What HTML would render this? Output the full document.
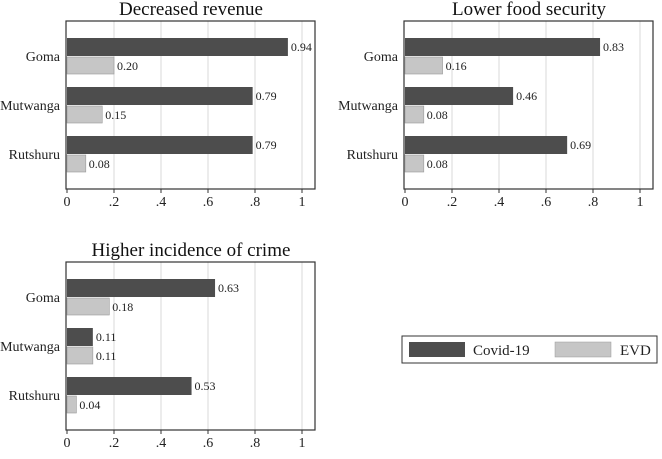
<!DOCTYPE html>
<html><head><meta charset="utf-8"><style>
body{margin:0;background:#fff}
svg{font-family:"Liberation Serif",serif}
</style></head><body>
<svg id="c" width="662" height="454" viewBox="0 0 662 454">
<g>
<rect x="402" y="336" width="255" height="27" fill="#fff" stroke="#333" stroke-width="1"/>
<rect x="409" y="342" width="56" height="15" fill="#4d4d4d"/>
<text x="473" y="355" font-size="15" fill="#222">Covid-19</text>
<rect x="555" y="342" width="56" height="15" fill="#c6c6c6" stroke="#999" stroke-width="0.5"/>
<text x="620" y="355" font-size="15" fill="#222">EVD</text>
</g>
</svg>
<script>
const categories=["Goma","Mutwanga","Rutshuru"];
const titles=["Decreased revenue","Lower food security","Higher incidence of crime"];
const covid1=[0.94,0.79,0.79], evd1=[0.20,0.15,0.08];
const covid2=[0.83,0.46,0.69], evd2=[0.16,0.08,0.08];
const covid3=[0.63,0.11,0.53], evd3=[0.18,0.11,0.04];
const ticks=[0,0.2,0.4,0.6,0.8,1];
const tickLabels=["0",".2",".4",".6",".8","1"];
const NS="http://www.w3.org/2000/svg";
const svg=document.getElementById('c');
function mk(t,a,p){const e=document.createElementNS(NS,t);for(const k in a)e.setAttribute(k,a[k]);(p||svg).appendChild(e);return e;}
const panels=[{x0:67,top:21,title:titles[0],c:covid1,e:evd1},{x0:405,top:21,title:titles[1],c:covid2,e:evd2},{x0:67,top:262,title:titles[2],c:covid3,e:evd3}];
panels.forEach((p,i)=>{
  const g=mk('g',{});
  
  
  const sx=v=>p.x0+v*235;
  const bottom=p.top+168;
  const t=mk('text',{x:p.x0+124,y:p.top-6,'font-size':19,'text-anchor':'middle',fill:'#111'},g);t.textContent=p.title;
  
  
  ticks.forEach((v,j)=>{
    if(v>0){const l=mk('line',{x1:sx(v),x2:sx(v),y1:p.top,y2:bottom,stroke:'#d8d8d8','stroke-width':1},g);
      
      }
    mk('line',{x1:sx(v),x2:sx(v),y1:bottom,y2:bottom+4,stroke:'#333'},g);
    const tl=mk('text',{x:sx(v),y:bottom+17,'font-size':14,'text-anchor':'middle',fill:'#222'},g);tl.textContent=tickLabels[j];
    
    
  });
  mk('rect',{x:p.x0-1,y:p.top,width:249,height:168,fill:'none',stroke:'#333','stroke-width':1.2},g);
  categories.forEach((cat,k)=>{
    const y=p.top+17+k*49;
    const cl=mk('text',{x:p.x0-7,y:y+23,'font-size':14,'text-anchor':'end',fill:'#222'},g);cl.textContent=cat;
    
    
    const b1=mk('rect',{x:sx(0),y:y,width:sx(p.c[k])-sx(0),height:18,fill:'#4d4d4d'},g);
    
    
    const b2=mk('rect',{x:sx(0),y:y+19,width:sx(p.e[k])-sx(0),height:17,fill:'#c6c6c6',stroke:'#9a9a9a','stroke-width':0.6},g);
    
    
    const v1=mk('text',{x:sx(p.c[k])+3,y:y+13,'font-size':12,fill:'#222'},g);v1.textContent=p.c[k].toFixed(2);
    
    
    const v2=mk('text',{x:sx(p.e[k])+3,y:y+32,'font-size':12,fill:'#222'},g);v2.textContent=p.e[k].toFixed(2);
    
    
  });
});
</script>
</body></html>
